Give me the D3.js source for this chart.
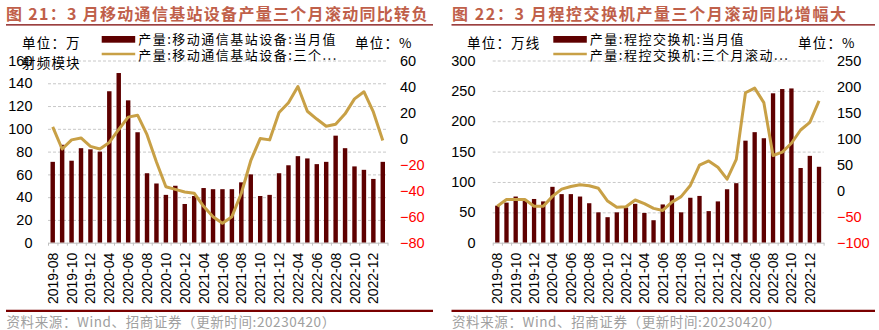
<!DOCTYPE html>
<html><head><meta charset="utf-8">
<script src="https://cdn.jsdelivr.net/npm/d3@7"></script>
<style>
html,body{margin:0;padding:0;background:#fff;}
svg{display:block;}
</style></head>
<body>
<svg id="chart" width="879" height="330"></svg>
<script>
// ---------- DATA ----------
const months = ["2019-08","2019-09","2019-10","2019-11","2019-12","2020-03","2020-04","2020-05","2020-06","2020-07","2020-08","2020-09","2020-10","2020-11","2020-12","2021-03","2021-04","2021-05","2021-06","2021-07","2021-08","2021-09","2021-10","2021-11","2021-12","2022-03","2022-04","2022-05","2022-06","2022-07","2022-08","2022-09","2022-10","2022-11","2022-12","2023-03"];

// Chart 21: base-station equipment (RF modules)
const baseStationMonthly = [71,86,72,83,82,80,133,149,125,97,61,52,42,50,34,41,48,47,47,47,53,60,41,42,61,68,76,74,69,71,94,83,67,64,56,71];
const baseStationRolling = [9,-8,-1,0.5,-6,-8,-3,7,16.5,18,3,-18,-37,-39,-41,-42,-52,-60,-65,-60,-42,-17,0,-1,20,27.5,40,21,15,9.5,11,19,30.5,36,20.5,-1.5];
const leftTicks1 = [0,20,40,60,80,100,120,140,160];
const rightTicks1 = [-80,-60,-40,-20,0,20,40,60];

// Chart 22: program-controlled switches
const switchMonthly = [61,66,76,70,72,68,92,80,80,76,65,50,42,50,58,64,49,37,63,78,50,74,77,52,68,88,98,168,182,172,246,253,254,123,143,125];
const switchRolling = [-30,-17,-17,-17,-30,-30,-11,3,8,11.5,9.5,4.5,-20,-32,-31,-18,-25,-34,-38,-22,-11.5,10,49,57,45,22,60,188,197,169,67.5,74,91,116.5,131,172.5];
const leftTicks2 = [0,50,100,150,200,250,300];
const rightTicks2 = [-100,-50,0,50,100,150,200,250];

// ---------- DRAWING ----------
const svg = d3.select("#chart");
const BAR = "#5e0000", LINE = "#c8a046", TITLE = "#c0604a", RULE = "#7a0000";
const CJK = "'Noto Sans CJK SC','Noto Sans',sans-serif";
const NUM = "'Liberation Sans',Arial,sans-serif";

function panel(o){
  const g = svg.append("g");
  // title
  g.append("text").attr("x",o.titleX).attr("y",20)
    .attr("font-family",CJK).attr("font-weight",700).attr("font-size",16)
    .attr("letter-spacing",o.titleLS).attr("fill",TITLE).text(o.title);
  g.append("line").attr("x1",o.ruleX0).attr("x2",o.ruleX1).attr("y1",24.8).attr("y2",24.8)
    .attr("stroke",RULE).attr("stroke-width",1.3);

  const x = d3.scaleBand().domain(months).range([o.x0,o.x1]).padding(0);
  const bw = x.bandwidth();
  const yL = d3.scaleLinear().domain([o.leftTicks[0],o.leftTicks[o.leftTicks.length-1]]).range([242.7,60.5]);
  const yR = d3.scaleLinear().domain([o.rightTicks[0],o.rightTicks[o.rightTicks.length-1]]).range([242.7,60.5]);

  // gridlines
  const grid = g.append("g").attr("transform",`translate(${o.x0},0)`)
    .call(d3.axisLeft(yL).tickValues(o.leftTicks.slice(1)).tickSize(-(o.x1-o.x0)).tickFormat(""));
  grid.select(".domain").remove();
  grid.selectAll("line").attr("stroke","#c8c8c8").attr("stroke-dasharray","3,2");

  // left axis labels
  const la = g.append("g").attr("transform",`translate(${o.leftLabelX},0)`)
    .call(d3.axisLeft(yL).tickValues(o.leftTicks).tickSize(0).tickPadding(0));
  la.select(".domain").remove();
  la.selectAll("text").attr("font-family",NUM).attr("font-size",14.5).attr("fill","#000");

  // right axis labels
  const ra = g.append("g").attr("transform",`translate(${o.rightLabelX},0)`)
    .call(d3.axisRight(yR).tickValues(o.rightTicks).tickSize(0).tickPadding(0));
  ra.select(".domain").remove();
  ra.selectAll("text").attr("font-family",NUM).attr("font-size",14.5)
    .attr("fill",d=> d<0 ? "#ff0000" : "#000");

  // bars
  const barW = bw*0.47;
  g.append("g").selectAll("rect").data(o.bars).join("rect")
    .attr("x",(d,i)=>x(months[i])+(bw-barW)/2)
    .attr("y",d=>yL(d)).attr("width",barW).attr("height",d=>yL(0)-yL(d))
    .attr("fill",BAR);

  // x axis (line + boundary ticks)
  const xb = d3.scaleLinear().domain([0,months.length]).range([o.x0,o.x1]);
  const xa = g.append("g").attr("transform",`translate(0,${yL(0)})`)
    .call(d3.axisBottom(xb).tickValues(d3.range(months.length+1)).tickSize(3).tickSizeOuter(0).tickFormat(""));
  xa.select(".domain").attr("stroke","#c0c0c0");
  xa.selectAll(".tick line").attr("stroke","#c0c0c0");

  // x labels
  const xl = g.append("g").attr("transform",`translate(0,${yL(0)})`)
    .call(d3.axisBottom(x).tickValues(months.filter((m,i)=>i%2===0)).tickSize(0));
  xl.select(".domain").remove();
  xl.selectAll("text").attr("font-family",NUM).attr("font-size",14).attr("fill","#000")
    .attr("transform","rotate(-90)").attr("text-anchor","end")
    .attr("x",-10).attr("y",0).attr("dy","0.36em");

  // line
  g.append("path").datum(o.line)
    .attr("d",d3.line().x((d,i)=>x(months[i])+bw/2).y(d=>yR(d)))
    .attr("fill","none").attr("stroke",LINE).attr("stroke-width",3).attr("stroke-linejoin","round");

  // unit labels
  const t = (xx,yy,txt,fs,ls)=>g.append("text").attr("x",xx).attr("y",yy).attr("dy","0.35em")
    .attr("font-family",CJK).attr("font-size",fs||13.5).attr("letter-spacing",ls==null?1.2:ls)
    .attr("fill","#000").text(txt);
  o.unitL.forEach((u,i)=>t(o.unitLX,43+i*20.5,u));
  t(o.unitRX,43,"单位：%");

  // legend
  g.append("rect").attr("x",o.legX).attr("y",36).attr("width",33.5).attr("height",6.7).attr("fill",BAR);
  g.append("line").attr("x1",o.legX).attr("x2",o.legX+33.5).attr("y1",54).attr("y2",54)
    .attr("stroke",LINE).attr("stroke-width",2.6);
  t(o.legX+36.5,39.5,o.leg1,13,1.5);
  t(o.legX+36.5,55,o.leg2,13,1.5);

  // footer
  g.append("line").attr("x1",o.ruleX0).attr("x2",o.ruleX1).attr("y1",310.8).attr("y2",310.8)
    .attr("stroke",RULE).attr("stroke-width",2.2);
  g.append("text").attr("x",o.ruleX0+0.5).attr("y",322).attr("dy","0.35em")
    .attr("font-family",CJK).attr("font-size",13.5).attr("letter-spacing",0.6).attr("fill","#a0a0a0")
    .text("资料来源：Wind、招商证券（更新时间:20230420）");
}

panel({
  title:"图 21：3 月移动通信基站设备产量三个月滚动同比转负",
  titleX:6, titleLS:1.3, ruleX0:6, ruleX1:433,
  x0:48, x1:387.5, leftLabelX:32.5, rightLabelX:400,
  leftTicks:leftTicks1, rightTicks:rightTicks1,
  bars:baseStationMonthly, line:baseStationRolling,
  unitL:["单位：万","射频模块"], unitLX:22, unitRX:355,
  legX:101.7, leg1:"产量:移动通信基站设备:当月值", leg2:"产量:移动通信基站设备:三个..."
});
panel({
  title:"图 22：3 月程控交换机产量三个月滚动同比增幅大",
  titleX:452, titleLS:1.6, ruleX0:451.5, ruleX1:875,
  x0:492.7, x1:823.6, leftLabelX:475.5, rightLabelX:837,
  leftTicks:leftTicks2, rightTicks:rightTicks2,
  bars:switchMonthly, line:switchRolling,
  unitL:["单位：万线"], unitLX:467, unitRX:798,
  legX:553.3, leg1:"产量:程控交换机:当月值", leg2:"产量:程控交换机:三个月滚动..."
});
</script>
</body></html>
